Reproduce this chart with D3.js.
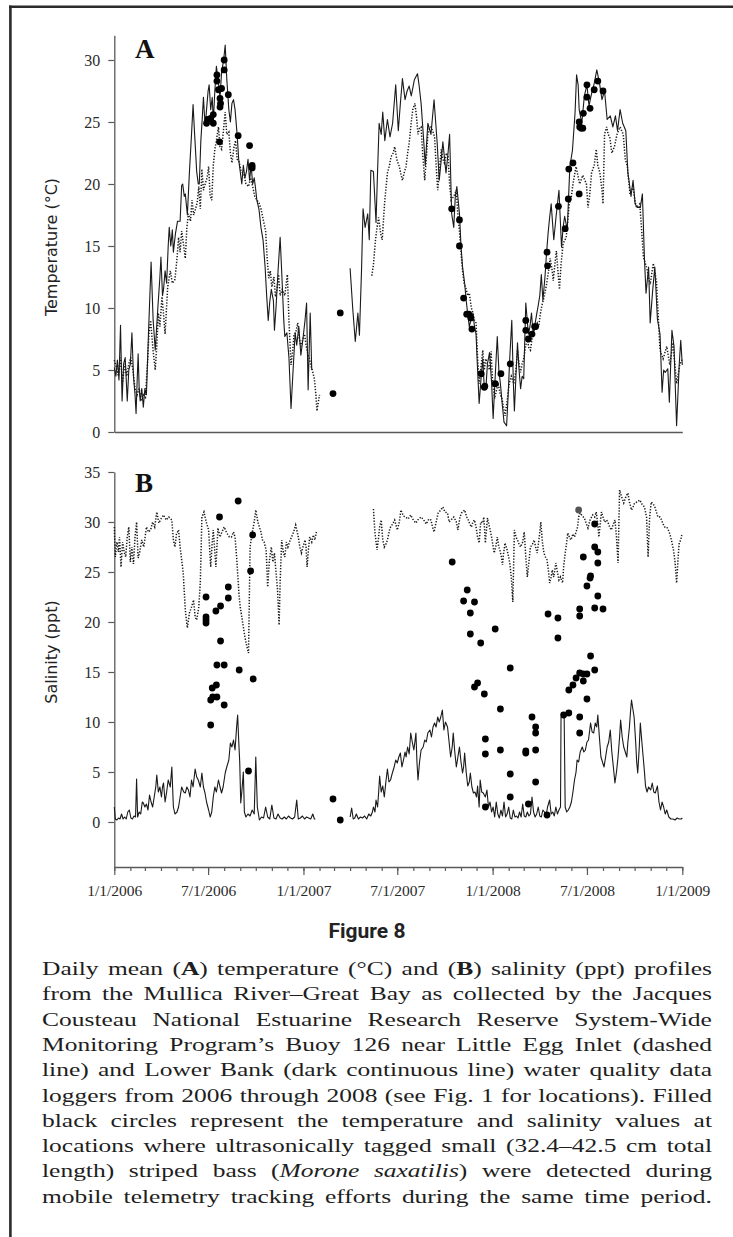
<!DOCTYPE html>
<html>
<head>
<meta charset="utf-8">
<script src="https://cdn.jsdelivr.net/npm/d3@7"></script>
<style>
  body { margin: 0; background: #fff; }
  svg { display: block; }
</style>
</head>
<body>
<div id="figure"></div>
<script>
// ---- data (day number counted from 1/1/2006, value) ----
var startDay = "2006-01-01";
var endDay = "2009-01-01";

var tempTicks = [0, 5, 10, 15, 20, 25, 30];
var salTicks = [0, 5, 10, 15, 20, 25, 30, 35];
var xTickDates = ["2006-01-01", "2006-07-01", "2007-01-01", "2007-07-01", "2008-01-01", "2008-07-01", "2009-01-01"];
var xTickLabels = ["1/1/2006", "7/1/2006", "1/1/2007", "7/1/2007", "1/1/2008", "7/1/2008", "1/1/2009"];

// temperature, Lower Bank (continuous line)
var tempLowerBank = [
  [0,5.2],[3,4.5],[6,5.8],[9,4.2],[12,8.6],[15,2.5],[18,5.5],[21,6.0],[25,2.5],[28,5.0],[31,5.5],[34,8.0],[37,4.5],[40,3.0],[42,1.5],[44,4.0],[46,6.3],[48,3.5],[50,2.5],[53,3.5],[56,2.0],[59,3.5],[62,3.0],
  [66,8.0],[71,13.7],[75,9.0],[79,6.6],[84,10.0],[88,12.5],[90,14.1],[93,11.0],[95,11.5],[98,13.0],[101,12.0],[104,15.0],[106,16.5],[109,15.0],[112,16.3],[114,14.5],[118,16.0],[122,17.0],[127,17.0],
  [130,19.9],[132,20.0],[135,19.0],[137,19.2],[141,17.5],[145,21.0],[149,24.0],[152,26.4],[155,24.0],[159,21.0],[162,20.0],[164,20.0],[167,23.5],[170,25.5],[172,27.0],[174,25.5],[176,25.0],[179,26.5],
  [181,27.5],[183,28.0],[186,26.0],[189,27.0],[191,25.0],[194,27.5],[197,29.5],[200,28.5],[204,27.0],[207,29.0],[211,30.0],[214,31.2],[217,28.5],[221,26.0],[224,25.0],[227,26.5],[230,26.8],[233,26.0],
  [237,24.0],[240,22.0],[243,21.0],[246,20.0],[249,21.5],[252,20.5],[255,21.0],[258,22.0],[261,20.3],[264,21.5],[267,20.0],[270,20.5],[273,19.5],[275,18.7],[279,18.0],[283,16.5],[287,15.5],[291,13.3],
  [294,11.0],[297,9.0],[300,10.5],[303,11.5],[307,10.6],[309,8.2],[312,10.0],[316,13.0],[320,15.7],[324,12.0],[327,9.0],[329,7.7],[333,8.0],[337,6.0],[341,1.9],[345,5.0],[349,8.0],[352,7.0],[356,8.5],
  [360,6.2],[364,7.5],[368,9.0],[371,10.4],[374,3.4],[378,9.6],[381,5.0],[382,null],
  [455,13.2],[460,10.0],[465,7.3],[470,9.6],[473,7.8],[477,13.0],[480,18.0],[484,16.5],[489,17.6],[492,15.5],[495,21.1],[500,21.0],[505,16.9],[508,21.0],[511,24.9],[515,24.0],[518,25.8],[522,23.5],
  [527,25.2],[532,23.8],[537,24.9],[543,28.0],[548,24.3],[552,26.5],[556,28.5],[561,26.8],[565,27.5],[569,27.9],[573,27.1],[579,28.4],[585,28.9],[588,28.0],[592,26.5],[597,23.5],[600,21.5],[605,24.9],
  [611,24.0],[617,26.8],[623,23.3],[627,20.3],[631,22.0],[634,23.4],[640,20.9],[644,22.5],[647,24.0],[651,17.6],[655,16.5],[658,19.0],[661,19.8],[666,17.6],[669,15.0],[672,13.3],[676,12.0],[679,10.6],
  [682,9.5],[685,8.5],[688,9.0],[692,9.6],[695,8.5],[698,7.9],[701,5.0],[704,2.3],[708,4.5],[711,5.9],[714,3.5],[717,3.5],[720,5.5],[724,6.4],[728,4.0],[731,1.1],[735,4.5],[739,7.7],[742,5.0],[745,3.9],
  [748,2.5],[752,0.8],[757,0.5],[760,3.0],[763,5.9],[767,9.0],[770,4.0],[772,1.7],[775,4.5],[778,7.2],[781,5.0],[784,3.5],[787,4.5],[790,4.3],[794,10.4],[799,7.9],[802,8.5],[805,9.6],[808,8.0],[811,8.5],
  [815,9.5],[818,10.2],[821,11.0],[824,12.7],[827,10.6],[831,12.5],[834,14.4],[837,16.0],[840,17.3],[843,18.4],[848,15.5],[853,17.6],[858,19.5],[863,14.9],[866,16.5],[869,17.4],[874,16.3],[879,21.4],
  [884,22.7],[889,25.7],[892,28.8],[895,28.0],[897,26.0],[902,24.9],[907,27.1],[912,28.0],[916,26.3],[921,27.3],[926,28.1],[931,29.2],[936,28.2],[941,26.8],[946,27.5],[951,25.2],[957,25.5],[962,24.6],
  [967,25.5],[971,24.3],[976,26.0],[981,24.9],[987,24.3],[991,20.9],[994,20.0],[997,19.0],[1001,20.3],[1005,18.4],[1009,18.1],[1015,18.1],[1019,19.2],[1023,13.9],[1026,11.2],[1031,13.3],[1034,8.8],
  [1039,11.5],[1043,13.3],[1048,9.1],[1053,7.9],[1057,3.2],[1060,5.0],[1063,4.8],[1068,5.1],[1071,2.4],[1076,8.2],[1080,6.9],[1083,3.0],[1085,0.5],[1090,5.4],[1093,7.4],[1096,5.4]
];

// temperature, Buoy 126 near Little Egg Inlet (dashed line)
var tempBuoy = [
  [0,5.8],[4,5.2],[8,4.5],[12,6.0],[16,4.0],[20,5.5],[24,4.5],[28,5.5],[32,6.0],[36,5.0],[40,3.5],[44,3.0],[48,3.5],[52,2.5],[56,3.0],[60,2.8],[64,5.5],[67,8.0],[70,9.0],[75,6.5],[79,5.0],[82,7.0],
  [85,9.6],[88,8.5],[92,10.9],[95,9.5],[98,7.9],[103,11.7],[108,13.0],[112,12.0],[117,12.3],[121,14.0],[124,15.7],[127,14.5],[130,16.2],[134,15.0],[137,14.0],[140,16.5],[143,17.6],[147,17.0],[150,18.7],
  [153,17.5],[156,17.9],[160,18.5],[163,19.8],[166,18.0],[169,21.2],[172,19.5],[176,20.1],[179,20.5],[182,21.4],[185,19.0],[188,18.7],[191,21.5],[194,22.8],[197,23.5],[201,24.6],[204,23.0],[207,22.8],
  [211,24.5],[214,25.8],[217,24.0],[221,24.2],[224,22.5],[227,21.7],[231,23.0],[234,23.5],[237,22.0],[240,21.9],[245,21.0],[250,20.8],[254,20.0],[259,19.8],[263,20.5],[267,19.8],[271,19.0],[275,18.7],
  [279,18.5],[283,18.0],[288,17.0],[292,16.2],[295,14.0],[298,12.4],[301,13.0],[304,11.7],[308,12.5],[311,10.9],[314,11.5],[317,12.7],[320,11.0],[324,11.5],[329,11.0],[334,12.7],[337,9.0],[341,5.4],
  [344,6.5],[347,7.9],[350,8.0],[354,8.8],[357,7.5],[360,6.9],[364,7.5],[367,7.9],[370,7.0],[373,6.4],[376,6.0],[379,5.4],[382,5.0],[386,4.3],[389,3.0],[391,1.7],[394,2.5],[396,3.0],[397,null],
  [497,12.6],[500,13.5],[504,15.5],[507,16.5],[510,17.3],[514,16.0],[517,15.5],[520,17.5],[522,18.7],[525,20.0],[527,20.9],[531,21.5],[534,22.2],[538,22.5],[541,23.0],[545,22.0],[550,21.4],[553,20.8],
  [556,20.3],[560,21.0],[563,21.4],[566,22.5],[569,23.3],[573,25.0],[576,26.0],[580,26.5],[583,25.5],[586,24.0],[589,24.5],[592,24.6],[595,22.5],[599,20.3],[602,22.0],[605,24.0],[608,24.5],[611,24.6],
  [615,24.2],[618,23.8],[621,21.5],[624,19.5],[627,21.0],[631,22.8],[634,22.0],[637,21.7],[641,22.5],[644,22.2],[647,20.0],[650,18.7],[655,19.0],[660,19.5],[663,17.5],[666,16.2],[669,14.5],[672,13.0],
  [675,12.0],[679,11.5],[682,11.0],[685,11.2],[689,10.0],[692,9.6],[695,9.0],[698,8.8],[701,6.0],[704,3.9],[707,5.0],[711,6.6],[714,5.0],[717,5.9],[720,5.5],[724,5.0],[727,6.5],[730,4.0],[734,2.7],
  [738,3.5],[741,3.8],[745,3.0],[748,2.7],[751,2.0],[754,1.3],[758,2.5],[762,3.9],[766,4.5],[771,3.9],[775,5.0],[778,6.6],[781,5.5],[784,4.8],[787,5.5],[790,5.9],[794,7.0],[797,7.4],[800,6.8],[803,6.6],
  [806,7.5],[808,7.9],[812,8.5],[816,8.8],[819,8.5],[822,9.5],[825,10.2],[830,11.0],[834,11.9],[838,13.0],[841,14.0],[845,13.0],[847,12.2],[850,13.5],[853,14.6],[856,13.0],[859,11.5],[862,13.5],
  [866,15.2],[872,15.7],[878,18.4],[882,19.0],[885,20.0],[891,21.4],[898,20.0],[904,20.7],[911,20.0],[914,18.1],[917,19.0],[921,20.9],[926,21.5],[930,22.8],[933,21.5],[937,20.9],[941,19.5],[943,18.4],
  [946,24.0],[950,24.6],[953,24.0],[956,23.8],[960,22.5],[965,23.0],[970,24.0],[976,24.6],[982,24.0],[986,22.0],[990,21.4],[995,19.2],[1001,19.8],[1005,18.5],[1008,18.1],[1014,18.4],[1018,16.0],
  [1021,14.1],[1027,13.3],[1034,11.9],[1040,13.6],[1046,12.2],[1050,9.0],[1053,6.6],[1059,5.9],[1066,6.9],[1072,5.4],[1078,7.2],[1085,3.9],[1091,5.4],[1096,5.9]
];

// salinity, Buoy 126 (dashed line)
var salBuoy = [
  [0,29.5],[2,26.5],[5,28.0],[8,27.0],[10,28.5],[13,25.5],[16,28.0],[19,27.0],[22,26.5],[25,28.5],[28,29.5],[31,26.0],[34,27.5],[37,25.8],[40,28.5],[43,30.0],[46,26.4],[49,27.0],[53,28.2],[57,27.5],
  [62,29.5],[66,29.0],[70,29.2],[74,30.0],[78,29.5],[82,31.0],[86,29.9],[90,30.3],[95,30.7],[100,30.2],[105,30.5],[111,30.2],[114,28.2],[117,27.5],[120,28.8],[124,29.2],[127,27.5],[130,26.2],[133,24.9],
  [137,21.2],[141,19.4],[145,20.9],[149,21.5],[153,22.2],[156,20.5],[159,20.2],[163,21.5],[166,24.0],[169,30.5],[173,31.0],[176,30.3],[178,29.9],[182,29.2],[186,25.5],[189,28.0],[191,29.2],[194,27.0],
  [196,25.5],[200,29.4],[204,28.5],[207,28.9],[212,29.5],[217,28.9],[222,28.5],[226,28.5],[230,29.0],[233,28.5],[236,26.5],[238,24.9],[241,22.5],[243,21.5],[246,20.5],[249,19.5],[252,18.5],[256,17.5],
  [259,16.9],[262,27.5],[266,28.9],[270,30.0],[273,31.2],[277,30.0],[280,29.5],[283,29.0],[286,28.2],[289,28.0],[293,27.2],[296,23.5],[299,26.0],[303,27.5],[306,26.0],[309,26.9],[312,25.0],[315,23.2],
  [318,19.7],[320,24.0],[323,28.2],[326,27.0],[329,26.5],[332,28.0],[335,27.5],[338,28.0],[342,28.5],[346,29.0],[350,29.7],[353,29.0],[355,28.5],[358,27.5],[361,26.9],[364,27.5],[368,28.2],[370,27.5],
  [372,25.5],[375,27.5],[377,28.5],[381,28.0],[384,28.7],[387,28.2],[390,29.0],[391,null],
  [500,31.3],[503,28.9],[507,27.2],[510,28.5],[512,29.5],[515,30.2],[518,28.2],[521,27.5],[524,27.8],[527,28.2],[532,29.4],[537,29.8],[541,30.2],[546,29.2],[550,30.0],[553,31.2],[558,30.6],[562,30.5],
  [567,30.3],[572,30.7],[577,30.2],[582,29.9],[587,30.3],[592,30.5],[597,30.2],[602,29.8],[607,30.3],[611,30.2],[614,29.5],[617,29.0],[621,30.0],[625,30.9],[630,31.2],[634,31.5],[638,31.0],[643,30.9],
  [646,30.0],[650,30.2],[655,30.5],[660,30.0],[663,29.2],[667,30.5],[670,30.9],[676,31.2],[680,30.5],[683,30.2],[686,29.8],[689,29.5],[692,30.0],[695,30.2],[698,29.5],[701,28.5],[704,27.9],[707,30.0],
  [711,29.9],[713,30.5],[716,27.9],[720,30.4],[724,29.5],[728,28.5],[733,26.9],[736,27.5],[739,28.5],[742,27.5],[744,27.2],[747,26.5],[749,25.7],[751,26.8],[754,27.9],[758,27.2],[761,26.5],[763,25.9],
  [766,24.5],[769,22.0],[772,29.2],[775,28.5],[778,28.2],[781,27.8],[784,27.5],[788,28.0],[791,29.0],[794,26.5],[797,24.5],[800,26.0],[803,27.5],[807,27.8],[810,28.2],[813,27.5],[816,26.9],[820,28.5],
  [823,30.0],[826,28.0],[829,26.9],[832,26.5],[835,26.2],[838,25.0],[840,23.9],[843,24.5],[845,25.2],[848,24.5],[852,25.9],[855,25.0],[858,24.2],[861,24.5],[865,23.9],[867,25.5],[870,26.9],[873,28.0],
  [875,28.9],[878,28.5],[881,28.2],[885,28.8],[888,28.5],[891,29.0],[894,29.5],[896,30.5],[899,30.9],[903,30.6],[907,30.4],[911,29.8],[914,29.4],[918,30.2],[923,30.7],[927,30.5],[930,31.0],[933,29.8],
  [935,28.5],[938,30.0],[940,31.0],[943,30.5],[946,30.0],[950,30.2],[953,29.9],[956,29.5],[959,29.2],[963,29.8],[966,30.2],[969,28.5],[972,25.9],[975,33.2],[979,32.5],[983,31.9],[987,32.5],[991,32.9],
  [994,32.0],[998,31.2],[1001,31.5],[1004,31.9],[1009,32.0],[1014,32.2],[1018,31.8],[1023,31.5],[1027,30.5],[1030,26.5],[1033,30.5],[1036,32.0],[1040,31.8],[1043,31.5],[1046,31.0],[1049,30.5],
  [1053,30.5],[1056,30.2],[1059,29.8],[1062,29.5],[1066,29.5],[1069,29.2],[1072,28.8],[1075,28.2],[1079,27.2],[1082,26.0],[1085,23.9],[1088,26.5],[1090,27.9],[1093,28.2],[1095,28.7]
];

// salinity, Lower Bank (continuous line)
var salLowerBank = [
  [0,1.5],[2,0.3],[5,0.2],[8,0.4],[11,0.3],[14,0.8],[17,0.3],[20,0.5],[23,0.3],[26,1.0],[29,1.2],[32,0.4],[35,0.3],[38,0.6],[41,0.5],[43,4.3],[45,0.5],[48,1.0],[51,0.8],[54,2.0],[56,1.9],[59,1.5],
  [62,1.8],[65,1.2],[68,2.7],[71,2.0],[74,1.5],[77,2.5],[80,3.5],[82,4.7],[85,3.0],[88,3.5],[91,2.5],[93,3.5],[95,3.9],[98,2.0],[101,3.0],[104,4.2],[108,3.5],[111,5.5],[114,1.5],[117,0.8],[121,1.0],
  [124,1.5],[127,2.5],[130,3.5],[134,3.0],[137,2.9],[140,3.5],[143,3.2],[146,2.5],[149,4.2],[152,3.5],[156,5.3],[159,4.5],[162,4.2],[166,3.5],[169,4.9],[172,3.5],[175,2.9],[178,2.0],[182,1.2],[185,0.5],
  [188,1.0],[191,2.5],[194,3.5],[197,3.0],[201,4.2],[204,3.5],[207,2.9],[210,3.5],[214,4.9],[217,5.5],[221,6.2],[224,7.9],[227,7.5],[230,8.2],[233,7.2],[236,9.5],[238,10.7],[240,8.2],[242,6.0],[244,1.9],
  [246,3.0],[249,5.0],[251,1.0],[254,0.5],[258,0.8],[262,0.6],[266,1.2],[270,0.8],[273,6.5],[276,1.5],[280,0.2],[284,0.5],[288,0.4],[292,1.5],[296,0.5],[300,0.3],[304,1.7],[308,0.4],[312,0.3],[316,0.8],
  [320,0.4],[324,0.3],[328,0.5],[332,0.3],[336,0.6],[340,0.4],[344,0.3],[348,0.5],[352,2.2],[355,0.3],[359,0.4],[363,0.6],[367,0.3],[371,0.5],[375,0.4],[379,0.3],[383,0.8],[386,0.3],[388,0.3],[389,null],
  [455,0.5],[458,1.4],[461,0.3],[464,0.4],[467,0.8],[471,0.3],[475,0.5],[479,0.4],[483,0.6],[487,0.3],[491,0.8],[495,0.6],[498,1.0],[500,1.5],[503,1.0],[505,2.2],[508,1.5],[510,2.9],[512,4.6],[515,3.0],
  [518,3.6],[521,2.5],[524,4.0],[527,5.3],[530,4.0],[533,4.2],[536,4.8],[540,5.5],[543,6.2],[546,5.9],[549,6.5],[552,6.9],[555,5.5],[558,6.2],[561,7.0],[563,6.5],[566,7.5],[569,6.8],[572,8.9],[575,8.0],
  [578,7.2],[580,8.0],[582,8.9],[584,6.0],[586,4.2],[589,6.0],[592,7.2],[596,7.5],[599,8.2],[602,8.0],[605,8.9],[609,9.2],[612,8.5],[615,9.5],[618,9.9],[621,9.5],[624,10.5],[627,10.0],[630,10.5],[633,11.2],
  [636,9.2],[639,10.0],[643,9.5],[646,8.0],[649,6.5],[652,7.5],[654,8.9],[657,7.0],[660,5.5],[663,6.5],[666,7.5],[669,6.0],[672,4.9],[674,5.5],[676,6.9],[679,5.0],[682,3.6],[685,4.0],[687,4.9],[690,3.5],
  [693,2.9],[696,3.0],[699,2.5],[701,3.6],[704,1.5],[706,4.2],[709,3.0],[712,2.9],[716,2.5],[719,3.2],[722,1.5],[725,2.0],[728,1.0],[731,1.5],[734,0.5],[737,2.0],[740,0.8],[743,0.4],[746,1.2],[749,0.6],
  [752,2.0],[755,0.5],[758,0.8],[761,1.5],[764,0.4],[767,0.3],[770,1.2],[773,0.5],[776,0.6],[779,0.4],[782,1.0],[785,0.5],[788,1.8],[791,0.6],[794,0.5],[797,1.0],[800,0.6],[803,0.8],[806,2.5],[809,1.0],
  [812,0.5],[815,0.8],[818,1.5],[821,0.6],[824,0.5],[827,1.2],[830,1.0],[833,0.6],[836,1.5],[840,2.2],[843,0.8],[846,1.0],[849,0.6],[852,1.5],[855,0.8],[858,1.2],[861,1.5],[862,10.5],[866,10.5],[868,10.7],
  [870,1.5],[873,1.0],[876,1.2],[879,1.5],[882,2.0],[885,3.0],[888,4.2],[891,5.0],[893,6.2],[896,6.0],[899,7.0],[903,7.5],[906,7.0],[909,7.2],[912,8.0],[915,8.2],[919,9.9],[922,9.0],[925,8.9],[928,9.9],
  [931,9.5],[933,10.7],[936,8.5],[939,6.5],[942,6.0],[945,5.5],[948,6.5],[951,7.5],[954,8.0],[957,9.2],[960,7.0],[963,5.5],[966,3.9],[969,5.0],[972,6.5],[975,8.5],[977,10.2],[980,8.5],[983,7.5],[986,7.0],
  [989,6.5],[991,8.0],[994,9.5],[996,11.0],[998,12.2],[1000,11.5],[1003,10.5],[1006,8.0],[1008,6.0],[1010,4.9],[1013,7.5],[1015,9.9],[1018,8.0],[1021,6.2],[1023,5.0],[1025,3.6],[1028,3.0],[1031,3.5],
  [1035,3.2],[1038,3.9],[1041,3.0],[1044,2.9],[1048,3.6],[1051,2.0],[1054,1.2],[1057,2.0],[1060,1.5],[1063,0.8],[1066,1.2],[1070,0.5],[1074,0.3],[1078,0.3],[1082,0.2],[1086,0.4],[1090,0.3],[1094,0.3],[1096,0.4]
];

// fish detections (filled black circles)
var tempDetections = [
  [178,24.9],[180,25.2],[186,25.3],[191,25.6],[191,24.9],[198,28.8],[198,28.3],[201,27.6],[204,26.9],[205,26.5],[207,27.7],[204,26.2],[203,23.4],[212,30.0],[212,29.2],[220,27.2],[239,23.9],[261,23.1],
  [266,21.5],[266,21.3],[422,3.1],[436,9.6],[651,18.0],[666,17.1],[666,15.0],[674,10.8],[680,9.5],[684,9.5],[688,9.2],[690,8.3],[708,4.7],[715,3.7],[714,3.6],[735,3.9],[746,4.7],[764,5.5],
  [794,9.0],[794,8.2],[799,7.5],[806,7.9],[811,8.5],[813,8.5],[835,14.5],[836,13.4],[857,18.2],[870,16.4],[876,18.8],[877,21.2],[885,21.7],[897,19.2],[897,25.0],[898,24.6],[901,24.5],[904,24.5],
  [905,25.7],[912,28.0],[912,27.0],[918,26.1],[926,27.6],[933,28.3],[943,27.5]
];
var salDetections = [
  [177,22.5],[177,20.5],[177,20.2],[177,19.9],[186,9.7],[186,12.2],[189,13.4],[197,13.7],[190,12.5],[198,12.5],[196,21.1],[205,21.6],[198,15.7],[212,15.7],[205,18.1],[203,30.5],[212,11.7],[220,23.5],
  [220,22.4],[239,32.1],[241,15.2],[259,5.1],[267,28.7],[263,25.1],[268,14.3],[422,2.3],[436,0.2],[652,26.0],[681,23.2],[674,22.1],[695,22.0],[687,20.9],[687,18.8],[707,17.9],[695,13.5],[701,13.9],
  [714,12.8],[716,8.3],[716,6.8],[716,1.5],[735,19.3],[764,15.4],[745,11.3],[806,10.5],[813,9.5],[813,8.9],[794,7.1],[794,6.9],[813,7.2],[745,7.2],[764,4.8],[764,2.5],[813,4.0],[799,1.8],[835,0.7],
  [837,20.8],[856,20.4],[856,18.4],[867,10.7],[877,10.9],[877,13.2],[885,13.7],[891,14.4],[898,14.9],[905,14.8],[912,14.8],[905,14.1],[919,16.6],[927,15.2],[912,12.3],[898,10.5],[898,8.9],[898,21.3],
  [898,20.6],[927,21.4],[943,21.3],[933,22.6],[912,23.6],[918,24.4],[919,24.6],[905,26.5],[927,27.5],[933,27.0],[933,25.9],[927,29.8]
];
var salDetectionsGray = [[896,31.2]];

var captionLines = [
  [["Daily mean (", ""], ["A", "b"], [") temperature (°C) and (", ""], ["B", "b"], [") salinity (ppt) profiles", ""]],
  [["from the Mullica River–Great Bay as collected by the Jacques", ""]],
  [["Cousteau National Estuarine Research Reserve System-Wide", ""]],
  [["Monitoring Program’s Buoy 126 near Little Egg Inlet (dashed", ""]],
  [["line) and Lower Bank (dark continuous line) water quality data", ""]],
  [["loggers from 2006 through 2008 (see Fig. 1 for locations). Filled", ""]],
  [["black circles represent the temperature and salinity values at", ""]],
  [["locations where ultrasonically tagged small (32.4–42.5 cm total", ""]],
  [["length) striped bass (", ""], ["Morone saxatilis", "i"], [") were detected during", ""]],
  [["mobile telemetry tracking efforts during the same time period.", ""]]
];

// ---- layout ----
var svgWidth = 733;
var svgHeight = 1237;
var plotLeft = 114.3;
var plotRight = 682.3;

var svg = d3.select("#figure")
  .append("svg")
  .attr("width", svgWidth)
  .attr("height", svgHeight);

var ink = "#1a1a1a";
var axisColor = "#5a5a5a";
var serifFont = "'Liberation Serif', 'DejaVu Serif', serif";
var sansFont = "'DejaVu Sans', 'Liberation Sans', sans-serif";

// page frame (top and left rules)
svg.append("line").attr("x1", 9).attr("x2", svgWidth).attr("y1", 6.7).attr("y2", 6.7)
  .attr("stroke", "#2b2b2b").attr("stroke-width", 2.6);
svg.append("line").attr("x1", 10.4).attr("x2", 10.4).attr("y1", 5.4).attr("y2", svgHeight)
  .attr("stroke", "#2b2b2b").attr("stroke-width", 2.6);

var parseDay = d3.utcParse("%Y-%m-%d");
var t0 = parseDay(startDay);
var t1 = parseDay(endDay);
function dayDate(n) { return d3.utcDay.offset(t0, n); }

var xScale = d3.scaleUtc().domain([t0, t1]).range([plotLeft, plotRight]);
var yTemp = d3.scaleLinear().domain([0, 32]).range([432, 35.2]);
var ySal = d3.scaleLinear().domain([-4.5, 35]).range([867, 472]);

function styleAxis(g, fontSize) {
  g.select(".domain").attr("stroke", axisColor).attr("stroke-width", 1.3);
  g.selectAll(".tick line").attr("stroke", axisColor).attr("stroke-width", 1.2);
  g.selectAll(".tick text").attr("fill", "#2a2a2a").style("font-family", serifFont).style("font-size", fontSize + "px");
}

// ---- panel A: temperature ----
var panelA = svg.append("g");

panelA.append("g")
  .attr("transform", "translate(" + plotLeft + ",0)")
  .call(d3.axisLeft(yTemp).tickValues(tempTicks).tickSize(6).tickSizeOuter(0).tickPadding(8))
  .call(function(g) { styleAxis(g, 16); });

panelA.append("g")
  .attr("transform", "translate(0," + yTemp(0) + ")")
  .call(d3.axisBottom(xScale).tickValues([]).tickSizeOuter(0))
  .call(function(g) { styleAxis(g, 13); });

var tempLine = d3.line()
  .defined(function(d) { return d[1] !== null; })
  .x(function(d) { return xScale(dayDate(d[0])); })
  .y(function(d) { return yTemp(d[1]); });

panelA.append("path").datum(tempBuoy)
  .attr("d", tempLine).attr("fill", "none").attr("stroke", ink)
  .attr("stroke-width", 1.5).attr("stroke-dasharray", "1.3,1.6");
panelA.append("path").datum(tempLowerBank)
  .attr("d", tempLine).attr("fill", "none").attr("stroke", ink)
  .attr("stroke-width", 1.1).attr("stroke-linejoin", "round");

panelA.selectAll("circle").data(tempDetections).enter().append("circle")
  .attr("cx", function(d) { return xScale(dayDate(d[0])); })
  .attr("cy", function(d) { return yTemp(d[1]); })
  .attr("r", 3.4).attr("fill", "#000");

panelA.append("text").attr("x", 135).attr("y", 57.5).text("A")
  .style("font-family", serifFont).style("font-weight", "bold").style("font-size", "27px").attr("fill", "#111");

panelA.append("text")
  .attr("transform", "translate(57,247) rotate(-90)")
  .attr("text-anchor", "middle")
  .style("font-family", sansFont).style("font-size", "16px").attr("fill", "#222")
  .text("Temperature (°C)");

// ---- panel B: salinity ----
var panelB = svg.append("g");

panelB.append("g")
  .attr("transform", "translate(" + plotLeft + ",0)")
  .call(d3.axisLeft(ySal).tickValues(salTicks).tickSize(6).tickSizeOuter(0).tickPadding(8))
  .call(function(g) { styleAxis(g, 16); });

// monthly minor ticks
panelB.append("g")
  .attr("transform", "translate(0," + ySal.range()[0] + ")")
  .call(d3.axisBottom(xScale).tickValues(d3.utcMonth.range(t0, d3.utcDay.offset(t1, 1))).tickSize(4).tickFormat(""))
  .call(function(g) { g.select(".domain").remove(); styleAxis(g, 13); });

var xTickValues = xTickDates.map(parseDay);
panelB.append("g")
  .attr("transform", "translate(0," + ySal.range()[0] + ")")
  .call(d3.axisBottom(xScale).tickValues(xTickValues).tickSize(8).tickSizeOuter(0).tickPadding(10)
    .tickFormat(function(d, i) { return xTickLabels[i]; }))
  .call(function(g) { styleAxis(g, 15.5); });

var salLine = d3.line()
  .defined(function(d) { return d[1] !== null; })
  .x(function(d) { return xScale(dayDate(d[0])); })
  .y(function(d) { return ySal(d[1]); });

panelB.append("path").datum(salBuoy)
  .attr("d", salLine).attr("fill", "none").attr("stroke", ink)
  .attr("stroke-width", 1.5).attr("stroke-dasharray", "1.3,1.6");
panelB.append("path").datum(salLowerBank)
  .attr("d", salLine).attr("fill", "none").attr("stroke", ink)
  .attr("stroke-width", 1.1).attr("stroke-linejoin", "round");

panelB.selectAll("circle.det").data(salDetections).enter().append("circle")
  .attr("class", "det")
  .attr("cx", function(d) { return xScale(dayDate(d[0])); })
  .attr("cy", function(d) { return ySal(d[1]); })
  .attr("r", 3.4).attr("fill", "#000");
panelB.selectAll("circle.gray").data(salDetectionsGray).enter().append("circle")
  .attr("class", "gray")
  .attr("cx", function(d) { return xScale(dayDate(d[0])); })
  .attr("cy", function(d) { return ySal(d[1]); })
  .attr("r", 3.4).attr("fill", "#555");

panelB.append("text").attr("x", 135).attr("y", 492).text("B")
  .style("font-family", serifFont).style("font-weight", "bold").style("font-size", "27px").attr("fill", "#111");

panelB.append("text")
  .attr("transform", "translate(57,652) rotate(-90)")
  .attr("text-anchor", "middle")
  .style("font-family", sansFont).style("font-size", "16px").attr("fill", "#222")
  .text("Salinity (ppt)");

// ---- figure title and caption ----
svg.append("text").attr("x", 367).attr("y", 938).attr("text-anchor", "middle")
  .style("font-family", "Roboto, sans-serif").style("font-weight", "bold").style("font-size", "21px")
  .attr("fill", "#222").text("Figure 8");

var captionLeft = 42;
var captionWidth = 670;
var captionTop = 975;
var captionStep = 25.3;

function splitWords(segs) {
  var words = [[]];
  segs.forEach(function(s) {
    s[0].split(" ").forEach(function(p, k) {
      if (k > 0) words.push([]);
      if (p.length) words[words.length - 1].push([p, s[1]]);
    });
  });
  return words.filter(function(w) { return w.length; });
}

var caption = svg.append("g")
  .style("font-family", serifFont)
  .style("font-size", "19px")
  .attr("fill", "#1e1e1e");

// build all words first, then stretch glyphs so the widest line has normal word gaps
var lineWords = captionLines.map(function(segs, i) {
  return splitWords(segs).map(function(w) {
    var t = caption.append("text");
    w.forEach(function(p) {
      t.append("tspan").text(p[0])
        .style("font-weight", p[1] === "b" ? "bold" : null)
        .style("font-style", p[1] === "i" ? "italic" : null);
    });
    return { node: t, width: t.node().getComputedTextLength() };
  });
});

var spaceWidth = 5.2;
var naturalMax = d3.max(lineWords, function(ws) {
  return d3.sum(ws, function(w) { return w.width; }) + (ws.length - 1) * spaceWidth;
});
var stretch = (captionWidth - 4) / naturalMax;

lineWords.forEach(function(ws, i) {
  var y = captionTop + i * captionStep;
  var total = d3.sum(ws, function(w) { return w.width * stretch; });
  var gap = (captionWidth - total) / (ws.length - 1);
  var x = captionLeft;
  ws.forEach(function(w) {
    w.node.attr("transform", "translate(" + x + "," + y + ") scale(" + stretch + ",1)");
    x += w.width * stretch + gap;
  });
});
</script>
</body>
</html>
